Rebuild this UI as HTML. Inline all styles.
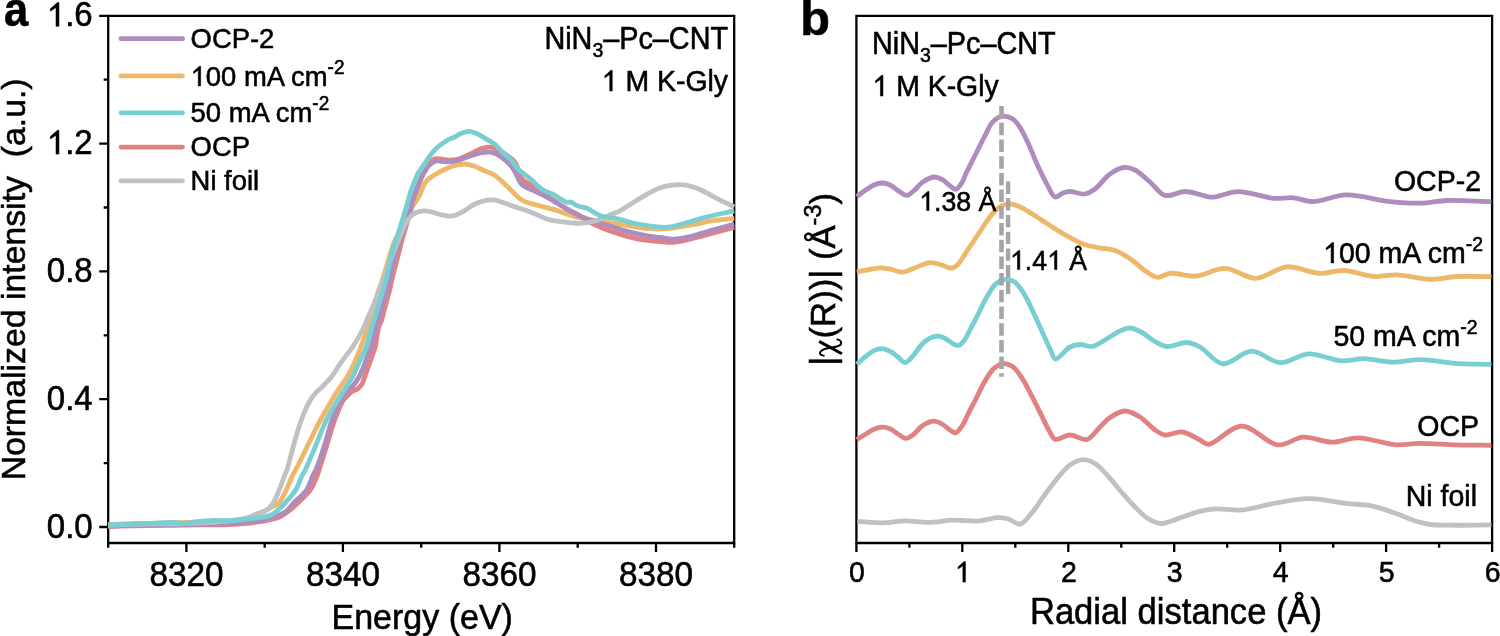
<!DOCTYPE html><html><head><meta charset="utf-8"><style>html,body{margin:0;padding:0;background:#fff;width:1500px;height:636px;overflow:hidden}svg{display:block;will-change:transform}text{font-family:"Liberation Sans",sans-serif;fill:#000;stroke:#000;stroke-width:0.55px}</style></head><body>
<svg width="1500" height="636" viewBox="0 0 1500 636">
<rect width="1500" height="636" fill="#fff"/>
<path d="M108.2,15.8 H734.2 V543.0 H108.2 Z" stroke="#000" stroke-width="2.3" fill="none" stroke-linecap="square"/>
<path d="M99.2,527.0 H108.2 M99.2,399.2 H108.2 M99.2,271.4 H108.2 M99.2,143.6 H108.2 M99.2,15.8 H108.2 M103.7,463.1 H108.2 M103.7,335.3 H108.2 M103.7,207.5 H108.2 M103.7,79.7 H108.2 M186.4,543.0 V552.0 M342.9,543.0 V552.0 M499.4,543.0 V552.0 M656.0,543.0 V552.0 M108.2,543.0 V547.7 M264.7,543.0 V547.7 M421.2,543.0 V547.7 M577.7,543.0 V547.7 M734.2,543.0 V547.7 " stroke="#000" stroke-width="2.3" fill="none"/>
<line x1="121" y1="38.7" x2="182.5" y2="38.7" stroke="#ae8cbe" stroke-width="4.8" stroke-linecap="round"/>
<line x1="121" y1="75.8" x2="182.5" y2="75.8" stroke="#eeb86a" stroke-width="4.8" stroke-linecap="round"/>
<line x1="121" y1="112.8" x2="182.5" y2="112.8" stroke="#79ced2" stroke-width="4.8" stroke-linecap="round"/>
<line x1="121" y1="147.1" x2="182.5" y2="147.1" stroke="#e08282" stroke-width="4.8" stroke-linecap="round"/>
<line x1="121" y1="180.8" x2="182.5" y2="180.8" stroke="#c0c1c3" stroke-width="4.8" stroke-linecap="round"/>
<path d="M108.20,526.50 C120.47,526.17 132.48,525.75 145.00,525.50 C158.05,525.24 171.27,525.16 185.00,525.00 C199.56,524.83 216.74,525.16 230.00,524.50 C240.53,523.98 249.59,523.40 258.30,522.00 C265.92,520.77 273.83,519.46 279.50,517.00 C283.81,515.13 286.87,512.42 290.00,510.00 C292.79,507.84 294.72,505.97 297.50,503.30 C301.26,499.68 306.94,494.86 310.30,490.00 C313.48,485.39 315.90,478.69 317.40,475.00 C318.24,472.92 318.35,472.31 319.10,470.00 C320.78,464.86 324.30,453.33 326.90,445.00 C329.50,436.67 331.80,427.80 334.70,420.00 C337.35,412.89 340.82,404.01 343.40,400.00 C344.68,398.01 345.66,397.34 347.00,396.00 C348.50,394.50 350.17,392.75 352.00,391.50 C353.83,390.25 356.30,389.80 358.00,388.50 C359.61,387.27 360.93,385.78 362.00,384.00 C363.19,382.02 363.60,379.74 364.60,377.00 C366.01,373.14 368.18,367.02 369.60,363.00 C370.67,359.96 371.47,357.67 372.40,355.00 C373.33,352.33 374.35,350.28 375.20,347.00 C376.49,342.06 377.10,332.93 378.50,328.00 C379.43,324.71 380.83,322.70 381.70,320.00 C382.55,317.36 382.83,315.32 383.70,312.00 C385.14,306.48 388.39,295.53 389.70,290.00 C390.48,286.69 390.49,285.54 391.30,282.00 C392.92,274.87 397.70,257.11 399.50,250.00 C400.40,246.45 400.54,245.54 401.50,242.00 C403.42,234.88 408.15,219.14 410.80,210.00 C412.79,203.14 414.08,197.79 416.00,192.00 C417.83,186.47 420.14,180.55 422.00,176.00 C423.41,172.55 424.37,169.60 426.00,167.00 C427.46,164.68 429.32,162.45 431.10,161.00 C432.52,159.85 433.62,158.96 435.50,158.60 C438.33,158.06 443.08,159.89 446.80,160.00 C450.41,160.10 453.85,160.16 457.50,159.30 C461.63,158.33 466.05,155.85 470.20,154.00 C474.28,152.18 478.46,149.40 482.20,148.30 C485.20,147.42 487.86,146.81 490.70,147.20 C493.76,147.62 497.10,149.66 499.90,151.10 C502.42,152.39 504.47,153.60 506.80,155.30 C509.50,157.27 512.66,159.20 515.00,162.40 C518.01,166.52 518.99,175.05 522.10,178.90 C524.44,181.80 527.25,182.62 530.40,184.80 C534.47,187.61 539.31,190.83 544.50,194.30 C550.86,198.55 559.65,204.84 565.80,208.40 C570.22,210.96 573.60,212.04 577.60,214.30 C581.99,216.78 585.85,220.12 591.00,222.80 C597.31,226.09 605.59,229.40 613.00,232.00 C620.26,234.55 627.37,236.71 635.00,238.30 C643.01,239.97 652.87,240.95 660.00,241.60 C665.30,242.08 668.94,242.67 673.90,242.30 C679.72,241.87 686.45,239.96 692.70,238.50 C699.01,237.03 705.02,235.29 711.60,233.50 C718.80,231.54 726.67,229.30 734.20,227.20" stroke="#e08282" stroke-width="4.8" fill="none" stroke-linejoin="round"/>
<path d="M108.20,524.50 C120.47,524.17 132.48,523.83 145.00,523.50 C158.06,523.16 171.28,522.98 185.00,522.50 C199.56,521.99 218.02,521.66 230.00,520.50 C238.02,519.72 244.02,519.20 250.00,517.50 C255.19,516.03 260.03,513.46 264.00,511.50 C267.08,509.98 269.45,508.42 272.00,507.00 C274.33,505.70 276.66,505.32 278.70,503.30 C281.58,500.44 283.88,494.63 286.20,490.00 C288.60,485.21 290.99,478.63 292.80,475.00 C293.87,472.85 294.37,472.32 295.60,470.00 C298.31,464.87 303.87,453.33 308.00,445.00 C312.13,436.67 316.21,427.81 320.40,420.00 C324.22,412.90 329.08,404.95 332.00,400.00 C333.73,397.06 334.68,395.39 336.20,393.00 C337.86,390.40 339.77,387.66 341.60,385.00 C343.44,382.33 345.34,380.12 347.20,377.00 C349.55,373.05 352.28,367.03 354.20,363.00 C355.63,359.98 356.69,357.68 357.80,355.00 C358.89,352.35 359.63,350.24 360.80,347.00 C362.60,342.02 365.00,335.45 367.40,328.00 C370.77,317.54 376.03,297.94 378.70,290.00 C379.94,286.31 380.48,285.58 381.70,282.00 C384.11,274.91 389.17,257.10 391.50,250.00 C392.67,246.43 392.90,245.27 394.30,242.00 C396.68,236.42 402.05,226.62 405.50,220.00 C408.36,214.51 411.34,208.62 413.50,205.00 C414.78,202.85 415.74,201.68 416.80,200.00 C417.84,198.34 418.81,197.00 419.80,195.00 C421.15,192.28 422.24,187.75 423.80,185.00 C425.05,182.79 426.32,181.13 428.00,179.50 C429.78,177.77 431.76,176.56 434.30,175.00 C437.78,172.85 443.13,169.92 447.20,168.20 C450.63,166.75 453.87,165.70 457.00,165.00 C459.77,164.38 462.27,163.87 465.00,164.00 C467.92,164.14 470.93,164.96 474.00,166.00 C477.45,167.17 481.07,169.32 484.60,170.90 C488.07,172.45 491.60,173.22 495.00,175.40 C499.02,177.98 502.63,182.19 506.80,186.00 C511.59,190.37 517.01,197.14 522.10,200.20 C526.04,202.57 529.42,202.93 533.90,204.30 C539.68,206.06 546.90,207.52 554.00,209.60 C562.14,211.99 571.62,216.03 580.00,218.00 C587.56,219.78 594.67,220.12 602.00,221.30 C609.34,222.48 616.66,223.92 624.00,225.10 C631.33,226.28 639.48,227.77 646.00,228.40 C651.18,228.90 655.34,229.10 660.00,229.00 C664.64,228.90 668.93,228.42 673.90,227.80 C679.71,227.07 686.44,225.85 692.70,224.70 C699.00,223.55 704.99,221.93 711.60,220.90 C718.77,219.78 726.67,219.23 734.20,218.40" stroke="#eeb86a" stroke-width="4.8" fill="none" stroke-linejoin="round"/>
<path d="M108.20,526.00 C120.47,525.67 132.48,525.25 145.00,525.00 C158.05,524.74 171.27,524.74 185.00,524.50 C199.56,524.25 219.79,524.04 230.00,523.50 C235.28,523.22 237.20,523.08 242.00,522.50 C249.31,521.61 261.60,520.28 269.50,518.10 C275.81,516.36 281.85,514.42 286.00,511.50 C289.26,509.21 290.46,506.32 293.30,503.30 C297.01,499.36 303.16,494.91 306.50,490.00 C309.63,485.41 311.32,478.63 313.10,475.00 C314.15,472.86 314.75,472.36 315.80,470.00 C318.06,464.90 321.89,453.37 324.60,445.00 C327.29,436.70 329.11,427.78 332.00,420.00 C334.65,412.87 337.93,405.41 341.00,400.00 C343.29,395.97 345.64,392.66 348.00,390.00 C349.85,387.92 351.86,386.99 353.60,385.00 C355.57,382.75 357.29,380.13 359.00,377.00 C361.15,373.07 363.43,367.04 365.00,363.00 C366.17,359.99 366.77,357.65 367.80,355.00 C368.84,352.32 370.09,350.29 371.20,347.00 C372.88,342.06 374.71,332.97 376.10,328.00 C377.00,324.75 377.76,322.68 378.50,320.00 C379.23,317.34 379.60,315.32 380.50,312.00 C381.99,306.47 385.27,295.51 386.90,290.00 C387.88,286.67 388.35,285.58 389.30,282.00 C391.18,274.91 394.65,257.07 396.70,250.00 C397.74,246.41 398.30,245.38 399.50,242.00 C401.58,236.14 406.17,223.88 408.10,218.00 C409.21,214.64 409.80,212.68 410.50,210.00 C411.20,207.35 411.59,204.56 412.30,202.00 C412.97,199.57 413.70,197.53 414.60,195.00 C415.68,191.95 417.04,188.32 418.40,185.00 C419.77,181.65 421.02,178.26 422.80,175.00 C424.66,171.59 426.87,167.40 429.40,165.00 C431.45,163.05 433.89,161.55 436.20,161.00 C438.27,160.51 440.28,161.27 442.50,161.40 C444.98,161.54 447.59,162.05 450.40,161.80 C453.69,161.50 457.50,160.35 461.00,159.30 C464.57,158.23 468.04,156.52 471.60,155.40 C475.11,154.29 479.00,153.11 482.20,152.60 C484.78,152.19 486.95,151.97 489.30,152.20 C491.68,152.43 494.24,153.08 496.40,154.00 C498.45,154.88 500.01,156.02 502.00,157.50 C504.57,159.41 508.05,162.24 510.30,164.80 C512.26,167.04 513.34,169.06 515.00,171.80 C517.20,175.43 518.81,181.62 522.10,184.80 C525.21,187.80 529.78,188.64 533.90,190.70 C538.41,192.96 543.16,195.09 548.10,197.80 C553.73,200.89 560.20,205.17 565.80,208.40 C570.77,211.27 574.62,213.95 580.00,216.30 C586.42,219.10 594.66,221.12 602.00,223.50 C609.33,225.88 616.62,228.58 624.00,230.60 C631.29,232.60 639.47,234.42 646.00,235.60 C651.17,236.54 655.34,236.90 660.00,237.50 C664.64,238.10 668.93,239.32 673.90,239.20 C679.70,239.06 686.47,237.45 692.70,236.00 C699.04,234.53 705.01,232.29 711.60,230.40 C718.79,228.33 726.67,226.20 734.20,224.10" stroke="#ae8cbe" stroke-width="4.8" fill="none" stroke-linejoin="round"/>
<path d="M108.20,525.00 C120.47,524.67 132.48,524.25 145.00,524.00 C158.05,523.74 171.28,524.00 185.00,523.50 C199.56,522.97 219.04,521.97 230.00,520.80 C236.36,520.12 240.20,519.79 245.00,518.50 C249.69,517.24 254.58,514.70 258.50,513.20 C261.51,512.05 264.13,511.78 266.50,510.20 C269.00,508.54 271.06,506.16 273.00,503.30 C275.42,499.74 277.27,494.61 279.20,490.00 C281.22,485.19 283.35,478.65 284.80,475.00 C285.64,472.88 286.09,472.34 286.90,470.00 C288.66,464.88 291.31,453.32 293.70,445.00 C296.10,436.65 298.36,427.78 301.30,420.00 C303.99,412.87 307.54,404.85 310.40,400.00 C312.20,396.95 313.54,395.32 315.60,393.00 C317.97,390.32 321.33,387.71 324.00,385.00 C326.59,382.37 328.93,380.16 331.40,377.00 C334.46,373.09 337.80,366.98 340.60,363.00 C342.76,359.92 344.60,357.67 346.60,355.00 C348.60,352.33 350.41,350.31 352.60,347.00 C355.85,342.09 361.14,333.06 363.60,328.00 C365.14,324.83 365.67,322.65 366.80,320.00 C367.94,317.32 368.94,315.34 370.40,312.00 C372.80,306.49 376.37,298.47 379.70,290.00 C384.15,278.69 390.45,259.74 394.30,250.00 C396.55,244.30 398.27,240.70 400.00,236.60 C401.46,233.14 402.40,230.17 404.00,227.00 C405.70,223.64 407.73,219.52 410.00,217.00 C411.82,214.98 413.74,213.53 416.00,212.50 C418.33,211.44 421.16,210.89 423.80,210.80 C426.49,210.71 429.31,211.39 432.00,212.00 C434.71,212.62 437.12,213.82 440.00,214.50 C443.26,215.27 447.52,216.35 450.60,216.20 C453.02,216.08 454.81,215.34 457.00,214.50 C459.52,213.53 462.06,212.07 464.80,210.50 C468.01,208.66 471.31,205.72 475.00,204.00 C478.82,202.22 483.73,200.64 487.40,200.10 C490.21,199.69 491.99,199.69 495.00,200.20 C499.72,201.00 506.80,204.15 512.70,206.10 C518.60,208.05 524.46,209.71 530.40,211.90 C536.59,214.18 542.45,217.79 549.10,219.60 C556.16,221.52 566.01,222.23 571.70,222.80 C575.14,223.15 576.77,223.46 580.00,223.30 C584.57,223.08 591.36,222.17 596.50,220.70 C601.32,219.33 605.84,216.75 610.00,215.00 C613.58,213.49 616.65,212.52 620.00,210.80 C623.65,208.92 627.33,206.27 631.00,204.00 C634.67,201.73 637.80,199.58 642.00,197.20 C647.36,194.16 654.74,189.56 660.70,187.50 C665.65,185.79 670.53,185.16 675.00,184.80 C678.89,184.49 682.14,184.44 686.00,185.10 C690.53,185.87 695.39,187.59 700.40,189.70 C706.33,192.19 713.17,196.62 719.10,199.60 C724.37,202.25 729.17,204.40 734.20,206.80" stroke="#c0c1c3" stroke-width="4.8" fill="none" stroke-linejoin="round"/>
<path d="M108.20,525.00 C120.47,524.50 133.36,523.93 145.00,523.50 C155.51,523.11 167.69,522.22 175.00,522.50 C179.23,522.66 181.67,523.68 185.00,523.60 C188.34,523.52 191.08,522.46 195.00,522.00 C200.51,521.35 208.81,520.71 215.00,520.50 C220.35,520.32 225.28,520.78 230.00,520.60 C234.23,520.44 237.40,520.06 242.00,519.60 C248.24,518.97 258.46,518.22 264.00,517.00 C267.47,516.24 269.67,515.73 272.30,514.30 C275.19,512.73 278.25,509.74 280.50,507.70 C282.22,506.14 283.09,505.21 284.80,503.30 C287.66,500.11 292.76,494.78 295.70,490.00 C298.57,485.33 300.46,478.62 302.30,475.00 C303.39,472.85 304.02,472.35 305.20,470.00 C307.77,464.90 312.46,453.35 316.00,445.00 C319.53,436.68 322.59,427.76 326.40,420.00 C329.91,412.85 334.09,406.14 337.80,400.00 C341.07,394.60 344.73,389.23 347.40,385.00 C349.35,381.92 350.73,380.10 352.40,377.00 C354.53,373.04 356.88,367.00 358.80,363.00 C360.26,359.95 361.56,357.69 362.80,355.00 C364.02,352.35 365.06,350.28 366.20,347.00 C367.92,342.06 369.59,334.04 371.40,328.00 C373.07,322.42 374.82,317.77 376.60,312.00 C378.67,305.26 381.30,295.51 383.00,290.00 C384.03,286.66 384.63,285.59 385.60,282.00 C387.52,274.92 390.60,257.07 392.60,250.00 C393.62,246.40 394.27,245.39 395.40,242.00 C397.35,236.15 400.78,225.20 403.00,218.00 C404.81,212.14 406.61,206.26 407.80,202.00 C408.58,199.20 408.82,197.52 409.60,195.00 C410.54,191.94 411.94,188.32 413.20,185.00 C414.47,181.66 415.50,178.25 417.20,175.00 C418.99,171.57 421.59,168.33 423.80,165.00 C426.02,161.66 428.22,157.93 430.50,155.00 C432.47,152.47 434.11,150.50 436.50,148.30 C439.37,145.66 443.50,142.46 446.80,140.50 C449.49,138.91 452.15,138.23 454.60,137.00 C456.87,135.86 458.65,134.33 461.00,133.40 C463.57,132.38 466.74,131.21 469.50,131.30 C472.17,131.39 474.71,132.64 477.30,133.80 C480.14,135.07 483.09,137.27 485.80,138.80 C488.23,140.18 490.84,141.19 492.80,142.60 C494.47,143.80 495.49,145.04 497.00,146.50 C498.84,148.27 500.87,150.49 503.00,152.50 C505.28,154.66 507.90,156.45 510.30,159.00 C513.11,161.98 515.38,166.27 518.60,169.50 C522.02,172.93 526.51,175.61 530.40,178.90 C534.38,182.27 538.29,186.96 542.20,189.50 C545.35,191.55 548.72,192.23 551.60,193.70 C554.17,195.01 556.24,196.39 558.70,197.80 C561.36,199.32 564.76,202.11 567.00,202.50 C568.36,202.74 569.18,201.66 570.50,201.90 C572.51,202.27 575.00,205.07 577.60,206.10 C580.34,207.18 583.90,207.05 586.60,208.10 C589.05,209.05 590.82,210.62 593.20,211.90 C595.90,213.35 598.51,215.16 602.00,216.30 C606.55,217.79 613.03,217.91 618.50,219.10 C624.03,220.30 629.20,222.28 635.00,223.50 C641.31,224.83 649.09,226.00 655.00,226.60 C659.67,227.07 663.01,227.62 667.60,227.20 C673.27,226.68 680.15,224.46 686.40,222.80 C692.72,221.13 698.30,219.00 705.30,217.20 C713.88,215.00 724.57,213.00 734.20,210.90" stroke="#79ced2" stroke-width="4.8" fill="none" stroke-linejoin="round"/>
<path d="M856.4,15.8 H1492.1 V543.0 H856.4 Z" stroke="#000" stroke-width="2.3" fill="none" stroke-linecap="square"/>
<path d="M856.4,543.0 V552.0 M962.3,543.0 V552.0 M1068.3,543.0 V552.0 M1174.2,543.0 V552.0 M1280.2,543.0 V552.0 M1386.1,543.0 V552.0 M1492.1,543.0 V552.0 M909.4,543.0 V547.7 M1015.3,543.0 V547.7 M1121.3,543.0 V547.7 M1227.2,543.0 V547.7 M1333.2,543.0 V547.7 M1439.1,543.0 V547.7 " stroke="#000" stroke-width="2.3" fill="none"/>
<path d="M857.50,521.30 C865.70,521.80 874.00,522.88 882.10,522.80 C890.03,522.72 897.76,520.97 905.60,520.90 C913.43,520.83 921.26,522.51 929.10,522.40 C936.96,522.29 944.54,520.47 952.70,520.20 C961.46,519.91 972.03,521.55 980.00,520.90 C986.31,520.39 991.70,517.90 996.80,517.70 C1001.01,517.54 1004.61,517.98 1008.40,519.00 C1012.35,520.06 1016.33,524.73 1020.00,524.10 C1024.11,523.39 1027.84,517.51 1031.60,513.20 C1036.05,508.11 1040.16,500.98 1044.50,495.10 C1048.73,489.38 1052.88,483.57 1057.30,478.40 C1061.47,473.52 1065.52,467.96 1070.20,464.80 C1074.22,462.08 1078.78,459.79 1083.10,459.70 C1087.38,459.61 1091.97,461.67 1096.00,464.20 C1100.66,467.12 1104.70,472.51 1108.90,477.10 C1113.31,481.92 1117.45,487.51 1121.80,492.50 C1126.05,497.37 1130.29,502.31 1134.70,506.70 C1138.90,510.88 1143.03,515.45 1147.60,518.30 C1151.69,520.85 1156.48,523.15 1160.50,523.50 C1163.86,523.80 1166.03,522.60 1170.00,521.50 C1177.02,519.56 1190.46,513.68 1198.60,511.60 C1204.45,510.10 1208.05,509.40 1214.00,509.00 C1222.07,508.45 1233.19,510.74 1242.70,509.90 C1252.29,509.06 1261.57,505.71 1271.30,503.90 C1281.36,502.03 1293.96,499.56 1302.10,498.90 C1307.40,498.47 1310.00,498.52 1315.30,498.90 C1323.44,499.48 1336.21,502.07 1346.10,503.30 C1355.25,504.44 1364.06,504.31 1372.60,506.10 C1380.94,507.85 1389.46,511.20 1396.80,513.80 C1403.06,516.01 1408.31,518.69 1414.00,520.50 C1419.38,522.21 1424.32,523.70 1430.00,524.50 C1436.25,525.38 1442.13,525.09 1450.00,525.20 C1461.32,525.36 1477.60,525.00 1491.40,524.90" stroke="#c0c1c3" stroke-width="4.8" fill="none" stroke-linejoin="round"/>
<path d="M856.80,439.60 C859.87,437.73 863.04,435.79 866.00,434.00 C868.76,432.33 871.25,430.34 874.00,429.20 C876.59,428.13 879.33,427.26 882.00,427.20 C884.66,427.14 887.43,427.75 890.00,428.80 C892.78,429.93 895.30,432.38 898.00,434.00 C900.64,435.58 903.33,438.40 906.00,438.40 C908.67,438.40 911.46,435.91 914.00,434.00 C916.83,431.88 918.81,428.10 922.00,426.00 C925.41,423.75 930.39,421.28 934.00,421.20 C936.92,421.14 939.43,422.63 942.00,424.00 C944.79,425.49 947.51,428.46 950.00,430.00 C951.97,431.22 953.79,433.12 955.60,432.80 C957.81,432.41 960.00,428.87 962.00,426.00 C964.63,422.24 966.89,416.06 969.20,411.60 C971.24,407.67 972.93,404.78 975.10,400.60 C977.92,395.16 981.22,387.34 984.60,381.70 C987.57,376.76 990.45,371.48 994.00,368.40 C996.86,365.92 1000.21,363.84 1003.40,363.60 C1006.51,363.37 1010.01,364.77 1012.90,366.80 C1016.45,369.29 1019.35,374.15 1022.30,378.60 C1025.67,383.69 1028.62,389.99 1031.70,395.90 C1034.89,402.01 1038.10,408.72 1041.10,414.70 C1043.84,420.17 1046.41,425.97 1049.00,430.40 C1051.03,433.86 1052.03,438.22 1055.00,439.30 C1058.59,440.61 1064.84,435.05 1070.00,435.00 C1075.48,434.94 1082.02,440.79 1087.00,439.50 C1092.04,438.19 1095.95,430.88 1100.00,427.00 C1103.55,423.61 1106.06,420.10 1110.00,417.50 C1114.29,414.67 1119.99,411.07 1125.00,411.00 C1129.99,410.93 1135.23,414.09 1140.00,417.00 C1145.29,420.22 1150.32,426.87 1155.00,430.00 C1158.51,432.35 1161.12,434.44 1165.00,435.00 C1169.82,435.70 1176.36,431.31 1182.00,432.00 C1188.03,432.74 1195.14,437.66 1200.00,440.00 C1203.39,441.63 1204.76,444.45 1208.50,444.40 C1215.94,444.30 1230.27,426.25 1241.60,426.10 C1253.38,425.94 1266.70,443.88 1277.90,444.90 C1286.91,445.72 1294.44,437.74 1303.20,437.20 C1312.38,436.64 1322.45,442.16 1331.80,442.20 C1340.77,442.24 1348.57,437.72 1358.20,437.80 C1369.86,437.90 1385.70,444.29 1396.80,444.90 C1405.12,445.36 1410.50,443.42 1418.80,443.30 C1429.62,443.14 1443.92,444.57 1456.20,444.90 C1468.11,445.22 1479.67,445.17 1491.40,445.30" stroke="#e08282" stroke-width="4.8" fill="none" stroke-linejoin="round"/>
<path d="M856.80,364.20 C859.87,361.53 862.98,358.56 866.00,356.20 C868.70,354.09 871.21,351.87 874.00,350.60 C876.56,349.43 879.24,348.44 882.00,348.60 C885.08,348.78 888.82,350.68 891.60,352.20 C894.06,353.55 895.81,355.33 898.00,357.00 C900.34,358.78 902.72,362.70 905.20,362.60 C908.03,362.49 911.26,357.58 914.00,354.60 C916.88,351.47 919.13,347.04 922.00,344.20 C924.51,341.72 927.19,339.54 930.00,338.20 C932.55,336.99 935.35,336.08 938.00,336.20 C940.69,336.32 943.56,337.76 946.00,339.00 C948.34,340.19 950.19,342.32 952.40,343.40 C954.44,344.40 956.76,345.82 958.70,345.40 C960.79,344.94 962.67,342.41 964.40,340.20 C966.53,337.46 968.06,333.44 970.00,329.80 C972.14,325.78 974.31,321.76 976.70,317.10 C979.60,311.46 982.77,304.03 986.10,298.30 C989.10,293.13 991.97,287.30 995.60,284.10 C998.45,281.59 1001.80,279.74 1005.00,279.40 C1008.07,279.07 1011.53,279.96 1014.40,281.80 C1017.98,284.10 1020.97,289.03 1023.90,293.60 C1027.36,298.98 1030.22,305.97 1033.30,312.40 C1036.49,319.06 1039.70,326.37 1042.70,332.90 C1045.45,338.89 1048.22,345.33 1050.60,350.10 C1052.34,353.58 1052.97,358.52 1055.40,359.00 C1058.72,359.65 1065.34,349.35 1070.00,347.00 C1073.44,345.27 1076.50,344.64 1080.00,344.50 C1083.80,344.35 1088.02,347.10 1092.00,346.50 C1096.35,345.85 1100.56,342.44 1105.00,340.00 C1109.87,337.33 1115.39,333.04 1120.00,331.00 C1123.56,329.43 1126.54,327.88 1130.00,328.00 C1133.84,328.13 1138.05,330.43 1142.00,332.50 C1146.39,334.80 1150.63,339.11 1155.00,341.50 C1158.97,343.67 1162.41,346.05 1167.00,346.50 C1172.75,347.07 1181.10,342.10 1187.00,342.50 C1191.85,342.83 1195.27,344.51 1200.00,347.00 C1206.79,350.57 1214.47,362.87 1222.80,363.80 C1231.56,364.77 1241.91,351.35 1251.50,351.20 C1261.01,351.05 1270.50,362.31 1280.10,362.70 C1289.57,363.08 1298.76,354.25 1308.70,353.80 C1319.25,353.33 1331.77,360.34 1341.70,360.90 C1349.74,361.35 1355.88,358.62 1363.70,358.70 C1372.64,358.80 1382.83,362.05 1392.40,362.20 C1401.93,362.35 1411.13,359.50 1421.00,359.60 C1431.61,359.71 1442.64,362.50 1454.00,363.30 C1466.06,364.15 1478.93,364.03 1491.40,364.40" stroke="#79ced2" stroke-width="4.8" fill="none" stroke-linejoin="round"/>
<path d="M856.80,271.80 C859.87,271.27 862.64,270.79 866.00,270.20 C870.09,269.48 875.36,267.93 879.60,267.80 C883.29,267.69 886.38,268.34 890.00,269.00 C894.07,269.74 898.70,272.40 902.80,272.20 C906.69,272.01 909.93,269.64 914.00,268.20 C918.86,266.48 925.00,262.95 930.00,262.60 C934.24,262.30 938.25,264.00 942.00,265.00 C945.41,265.91 948.79,268.53 951.60,268.20 C954.03,267.91 955.96,266.16 958.00,264.20 C960.74,261.56 963.00,256.88 965.70,252.90 C968.71,248.46 972.05,243.51 975.20,238.80 C978.35,234.08 981.40,229.15 984.60,224.60 C987.67,220.23 990.78,215.32 994.00,212.00 C996.58,209.34 999.11,207.07 1001.90,205.70 C1004.40,204.48 1006.96,203.70 1009.80,203.80 C1013.18,203.92 1016.92,205.55 1020.80,207.30 C1025.69,209.51 1031.30,213.44 1036.50,216.70 C1041.77,220.00 1046.93,223.70 1052.20,227.00 C1057.40,230.26 1062.60,233.50 1067.90,236.40 C1073.10,239.25 1078.32,242.37 1083.70,244.30 C1088.83,246.14 1094.15,246.86 1099.40,247.90 C1104.62,248.93 1110.01,248.73 1115.10,250.50 C1120.50,252.38 1125.70,255.79 1130.80,259.20 C1136.21,262.82 1141.65,268.64 1146.60,271.80 C1150.46,274.27 1153.76,277.01 1157.60,277.30 C1161.55,277.60 1165.03,273.82 1170.00,273.30 C1177.09,272.55 1187.49,276.72 1196.40,276.00 C1205.81,275.24 1215.32,268.06 1225.00,268.30 C1235.14,268.55 1245.65,278.53 1255.90,278.30 C1266.22,278.07 1276.13,267.65 1286.70,266.80 C1297.39,265.94 1309.52,273.00 1319.70,273.40 C1328.36,273.74 1335.37,270.19 1343.90,270.50 C1353.60,270.85 1365.34,275.94 1374.80,276.50 C1382.72,276.97 1388.62,274.68 1396.80,274.90 C1407.17,275.18 1421.36,279.36 1432.00,279.40 C1440.82,279.43 1447.36,277.00 1456.20,276.50 C1466.82,275.90 1479.67,276.63 1491.40,276.70" stroke="#eeb86a" stroke-width="4.8" fill="none" stroke-linejoin="round"/>
<path d="M856.80,196.60 C859.87,194.33 862.99,191.81 866.00,189.80 C868.72,187.99 871.25,186.14 874.00,185.00 C876.59,183.93 879.33,183.00 882.00,183.00 C884.67,183.00 887.44,183.83 890.00,185.00 C892.79,186.27 895.22,188.88 898.00,190.60 C900.82,192.35 904.05,195.52 906.80,195.40 C909.36,195.29 911.63,192.54 914.00,190.60 C916.71,188.38 918.84,184.81 922.00,182.60 C925.42,180.20 930.36,177.26 934.00,177.00 C936.89,176.79 939.46,178.07 942.00,179.40 C944.82,180.88 947.53,184.02 950.00,185.80 C951.99,187.23 953.76,189.63 955.60,189.40 C957.78,189.13 960.32,185.16 962.00,182.60 C963.68,180.05 964.13,177.46 965.70,174.10 C968.07,169.04 971.96,161.57 975.10,155.30 C978.25,149.01 981.53,142.21 984.60,136.40 C987.28,131.33 989.15,125.74 992.40,122.30 C995.11,119.42 998.49,116.84 1001.90,116.30 C1005.32,115.76 1009.81,117.13 1012.90,119.10 C1016.12,121.15 1018.28,124.88 1020.70,128.60 C1023.59,133.05 1025.94,138.58 1028.60,144.30 C1031.70,150.97 1034.76,159.30 1038.00,166.30 C1041.04,172.86 1044.29,179.62 1047.40,185.10 C1049.95,189.59 1052.01,196.17 1055.00,197.00 C1057.38,197.66 1060.36,193.92 1063.00,193.00 C1065.36,192.17 1067.22,191.56 1070.00,191.50 C1074.05,191.41 1080.60,194.66 1085.00,194.00 C1088.77,193.43 1091.54,191.49 1095.00,189.00 C1099.76,185.57 1104.75,177.67 1110.00,174.00 C1114.48,170.87 1119.54,167.97 1124.00,167.50 C1127.82,167.10 1131.26,168.20 1135.00,170.00 C1139.88,172.35 1145.06,177.81 1150.00,182.00 C1155.06,186.30 1159.19,193.91 1165.00,195.50 C1170.84,197.10 1178.81,191.50 1185.00,191.50 C1190.36,191.50 1195.31,193.49 1200.00,194.50 C1204.18,195.40 1207.08,197.16 1211.80,197.20 C1218.87,197.26 1228.83,191.70 1238.30,191.60 C1249.19,191.49 1263.40,197.48 1273.50,198.30 C1281.01,198.91 1286.73,197.26 1293.30,197.80 C1299.93,198.35 1305.67,201.64 1313.10,201.60 C1322.71,201.55 1334.28,195.19 1346.10,194.90 C1359.71,194.56 1376.78,200.26 1390.20,201.60 C1401.35,202.72 1411.14,203.34 1421.00,203.10 C1430.15,202.87 1437.47,200.86 1447.40,200.50 C1460.19,200.03 1476.73,201.23 1491.40,201.60" stroke="#ae8cbe" stroke-width="4.8" fill="none" stroke-linejoin="round"/>
<line x1="1001.5" y1="106.1" x2="1001.5" y2="376.7" stroke="#a5a5a5" stroke-width="4.6" stroke-dasharray="12.5,4.2"/>
<line x1="1008.1" y1="181.6" x2="1008.1" y2="294.6" stroke="#a5a5a5" stroke-width="4.4" stroke-dasharray="12.3,4.4"/>
<path d="M819.1,341.4 L841.9,353.8" stroke="#000" stroke-width="3" fill="none"/>
<path d="M836.6,339.2 C841,339.6 842.8,343.4 839.6,345.4 C836,347.6 828,347.4 823.4,349.6 C818.6,351.8 818.8,355.2 824.6,355.7" stroke="#000" stroke-width="1.9" fill="none"/>
<text id="t_a" transform="translate(4.00,26.20) scale(1,1.120)" font-size="43.50" text-anchor="start" font-weight="bold" xml:space="preserve">a</text>
<text id="t_b" transform="translate(800.30,34.60) scale(1,1.000)" font-size="48.70" text-anchor="start" font-weight="bold" xml:space="preserve">b</text>
<text id="t_y1.6" transform="translate(92.70,26.30) scale(1,1.045)" font-size="33.00" text-anchor="end" xml:space="preserve"><tspan style="fill:transparent;stroke:none">1</tspan>.6</text>
<text id="t_y1.2" transform="translate(92.70,154.10) scale(1,1.045)" font-size="33.00" text-anchor="end" xml:space="preserve"><tspan style="fill:transparent;stroke:none">1</tspan>.2</text>
<text id="t_y0.8" transform="translate(92.70,281.90) scale(1,1.045)" font-size="33.00" text-anchor="end" xml:space="preserve">0.8</text>
<text id="t_y0.4" transform="translate(92.70,409.70) scale(1,1.045)" font-size="33.00" text-anchor="end" xml:space="preserve">0.4</text>
<text id="t_y0.0" transform="translate(92.70,537.50) scale(1,1.045)" font-size="33.00" text-anchor="end" xml:space="preserve">0.0</text>
<text id="t_x8320" transform="translate(186.45,586.30) scale(1,1.045)" font-size="33.30" text-anchor="middle" xml:space="preserve">8320</text>
<text id="t_x8340" transform="translate(342.95,586.30) scale(1,1.045)" font-size="33.30" text-anchor="middle" xml:space="preserve">8340</text>
<text id="t_x8360" transform="translate(499.45,586.30) scale(1,1.045)" font-size="33.30" text-anchor="middle" xml:space="preserve">8360</text>
<text id="t_x8380" transform="translate(655.95,586.30) scale(1,1.045)" font-size="33.30" text-anchor="middle" xml:space="preserve">8380</text>
<text id="t_r0" transform="translate(856.90,582.10) scale(1,1.045)" font-size="28.50" text-anchor="middle" xml:space="preserve">0</text>
<text id="t_r1" transform="translate(962.85,582.10) scale(1,1.045)" font-size="28.50" text-anchor="middle" xml:space="preserve"><tspan style="fill:transparent;stroke:none">1</tspan></text>
<text id="t_r2" transform="translate(1068.80,582.10) scale(1,1.045)" font-size="28.50" text-anchor="middle" xml:space="preserve">2</text>
<text id="t_r3" transform="translate(1174.75,582.10) scale(1,1.045)" font-size="28.50" text-anchor="middle" xml:space="preserve">3</text>
<text id="t_r4" transform="translate(1280.70,582.10) scale(1,1.045)" font-size="28.50" text-anchor="middle" xml:space="preserve">4</text>
<text id="t_r5" transform="translate(1386.65,582.10) scale(1,1.045)" font-size="28.50" text-anchor="middle" xml:space="preserve">5</text>
<text id="t_r6" transform="translate(1492.60,582.10) scale(1,1.045)" font-size="28.50" text-anchor="middle" xml:space="preserve">6</text>
<text id="t_energy" transform="translate(422.20,629.00) scale(1,1.045)" font-size="34.00" text-anchor="middle" xml:space="preserve">Energy (eV)</text>
<text id="t_radial" transform="translate(1176.00,623.60) scale(1,1.045)" font-size="34.60" text-anchor="middle" xml:space="preserve">Radial distance (Å)</text>
<text id="t_ylab_a" transform="translate(25.20,279.40) rotate(-90) scale(1.000,1)" font-size="33.80" text-anchor="middle" xml:space="preserve">Normalized intensity  (a.u.)</text>
<text id="t_ylab_b" transform="translate(834.60,279.30) rotate(-90) scale(1.000,1)" font-size="34.70" text-anchor="middle" xml:space="preserve">|<tspan style="fill:transparent;stroke:none">χ</tspan>(R))| (Å<tspan font-size="23.5" dy="-14">-3</tspan><tspan dy="14">)</tspan></text>
<text id="t_lg1" transform="translate(190.60,48.10) scale(1,1.040)" font-size="27.40" text-anchor="start" xml:space="preserve">OCP-2</text>
<text id="t_lg2" transform="translate(190.60,85.90) scale(1,1.040)" font-size="27.40" text-anchor="start" xml:space="preserve"><tspan style="fill:transparent;stroke:none">1</tspan>00 mA cm<tspan font-size="19" dy="-11.5">-2</tspan></text>
<text id="t_lg3" transform="translate(190.60,122.30) scale(1,1.040)" font-size="27.40" text-anchor="start" xml:space="preserve">50 mA cm<tspan font-size="19" dy="-11.5">-2</tspan></text>
<text id="t_lg4" transform="translate(190.60,156.20) scale(1,1.040)" font-size="27.40" text-anchor="start" xml:space="preserve">OCP</text>
<text id="t_lg5" transform="translate(190.60,190.00) scale(1,1.040)" font-size="27.40" text-anchor="start" xml:space="preserve">Ni foil</text>
<text id="t_nin_a" transform="translate(728.00,48.70) scale(1,1.060)" font-size="28.80" text-anchor="end" xml:space="preserve">NiN<tspan font-size="19.5" dy="7.5">3</tspan><tspan dy="-7.5">–Pc–CNT</tspan></text>
<text id="t_kgly_a" transform="translate(728.00,91.00) scale(1,1.060)" font-size="28.40" text-anchor="end" xml:space="preserve"><tspan style="fill:transparent;stroke:none">1</tspan> M K-Gly</text>
<text id="t_nin_b" transform="translate(872.00,53.70) scale(1,1.060)" font-size="28.80" text-anchor="start" xml:space="preserve">NiN<tspan font-size="19.5" dy="7.5">3</tspan><tspan dy="-7.5">–Pc–CNT</tspan></text>
<text id="t_kgly_b" transform="translate(872.50,96.00) scale(1,1.060)" font-size="28.40" text-anchor="start" xml:space="preserve"><tspan style="fill:transparent;stroke:none">1</tspan> M K-Gly</text>
<text id="t_d138" transform="translate(996.40,210.60) scale(1,1.045)" font-size="26.70" text-anchor="end" xml:space="preserve"><tspan style="fill:transparent;stroke:none">1</tspan>.38 Å</text>
<text id="t_d141" transform="translate(1010.00,269.60) scale(1,1.045)" font-size="26.70" text-anchor="start" xml:space="preserve"><tspan style="fill:transparent;stroke:none">1</tspan>.4<tspan style="fill:transparent;stroke:none">1</tspan> Å</text>
<text id="t_rl1" transform="translate(1481.00,191.00) scale(1,1.040)" font-size="28.50" text-anchor="end" xml:space="preserve">OCP-2</text>
<text id="t_rl2" transform="translate(1483.00,262.90) scale(1,1.040)" font-size="28.50" text-anchor="end" xml:space="preserve"><tspan style="fill:transparent;stroke:none">1</tspan>00 mA cm<tspan font-size="19.5" dy="-11.5">-2</tspan></text>
<text id="t_rl3" transform="translate(1477.50,345.50) scale(1,1.040)" font-size="28.50" text-anchor="end" xml:space="preserve">50 mA cm<tspan font-size="19.5" dy="-11.5">-2</tspan></text>
<text id="t_rl4" transform="translate(1479.00,435.60) scale(1,1.040)" font-size="28.50" text-anchor="end" xml:space="preserve">OCP</text>
<text id="t_rl5" transform="translate(1477.00,505.50) scale(1,1.040)" font-size="28.50" text-anchor="end" xml:space="preserve">Ni foil</text>
<path d="M752,0 L572,0 L572,1122 L222,897 L222,1040 L660,1409 L752,1409 Z" transform="translate(46.81,26.30) scale(0.01611,-0.01684)" fill="#000" stroke="#000" stroke-width="34.1"/>
<path d="M752,0 L572,0 L572,1122 L222,897 L222,1040 L660,1409 L752,1409 Z" transform="translate(46.81,154.10) scale(0.01611,-0.01684)" fill="#000" stroke="#000" stroke-width="34.1"/>
<path d="M752,0 L572,0 L572,1122 L222,897 L222,1040 L660,1409 L752,1409 Z" transform="translate(954.93,582.10) scale(0.01392,-0.01454)" fill="#000" stroke="#000" stroke-width="39.5"/>
<path d="M752,0 L572,0 L572,1122 L222,897 L222,1040 L660,1409 L752,1409 Z" transform="translate(190.60,85.90) scale(0.01338,-0.01391)" fill="#000" stroke="#000" stroke-width="41.1"/>
<path d="M752,0 L572,0 L572,1122 L222,897 L222,1040 L660,1409 L752,1409 Z" transform="translate(601.81,91.00) scale(0.01387,-0.01470)" fill="#000" stroke="#000" stroke-width="39.7"/>
<path d="M752,0 L572,0 L572,1122 L222,897 L222,1040 L660,1409 L752,1409 Z" transform="translate(872.50,96.00) scale(0.01387,-0.01470)" fill="#000" stroke="#000" stroke-width="39.7"/>
<path d="M752,0 L572,0 L572,1122 L222,897 L222,1040 L660,1409 L752,1409 Z" transform="translate(919.22,210.60) scale(0.01304,-0.01362)" fill="#000" stroke="#000" stroke-width="42.2"/>
<path d="M752,0 L572,0 L572,1122 L222,897 L222,1040 L660,1409 L752,1409 Z" transform="translate(1010.00,269.60) scale(0.01304,-0.01362)" fill="#000" stroke="#000" stroke-width="42.2"/>
<path d="M752,0 L572,0 L572,1122 L222,897 L222,1040 L660,1409 L752,1409 Z" transform="translate(1047.11,269.60) scale(0.01304,-0.01362)" fill="#000" stroke="#000" stroke-width="42.2"/>
<path d="M752,0 L572,0 L572,1122 L222,897 L222,1040 L660,1409 L752,1409 Z" transform="translate(1323.15,262.90) scale(0.01392,-0.01447)" fill="#000" stroke="#000" stroke-width="39.5"/>
</svg></body></html>
